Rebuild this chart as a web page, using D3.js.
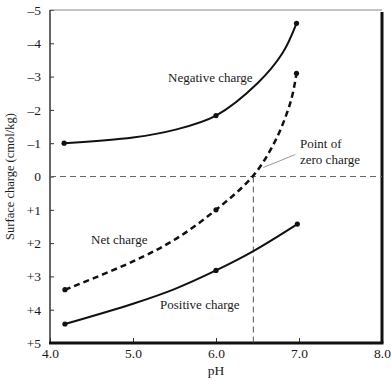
<!DOCTYPE html>
<html>
<head>
<meta charset="utf-8">
<script src="https://cdn.jsdelivr.net/npm/d3@7"></script>
<style>
  body { margin: 0; background: #fff; }
  svg text { font-family: "Liberation Serif", serif; fill: #1a1a1a; }
</style>
</head>
<body>
<script>
// values (pH vs surface charge, cmol/kg; negative is up)
const negPH = [4.17, 5.0, 5.5, 6.0, 6.5, 6.8, 6.97];
const negCharge = [-1.0, -1.17, -1.4, -1.83, -2.8, -3.7, -4.6];
const negMarks = [0, 3, 6];

const netPH = [4.18, 5.0, 5.5, 6.0, 6.44, 6.7, 6.9, 6.97];
const netCharge = [3.4, 2.55, 1.9, 1.0, 0, -1.0, -2.25, -3.1];
const netMarks = [0, 3, 7];

const posPH = [4.18, 5.0, 5.5, 6.0, 6.45, 6.98];
const posCharge = [4.43, 3.82, 3.38, 2.82, 2.24, 1.43];
const posMarks = [0, 3, 5];

const zeroChargePH = 6.45;

const xTicks = [4, 5, 6, 7, 8];
const yTicks = [-5, -4, -3, -2, -1, 0, 1, 2, 3, 4, 5];

const width = 391, height = 381;

const svg = d3.select("body").append("svg")
    .attr("width", width)
    .attr("height", height);

const x = d3.scaleLinear().domain([4, 8]).range([50, 382]);
const y = d3.scaleLinear().domain([-5, 5]).range([10, 343]);

// axes
svg.append("g")
    .attr("transform", "translate(0," + y(5) + ")")
    .call(d3.axisBottom(x).tickValues(xTicks).tickSize(-5).tickPadding(5).tickFormat(d3.format(".1f")))
    .call(g => g.select(".domain").remove())
    .call(g => g.selectAll("line").attr("stroke", "#333"))
    .selectAll("text")
    .style("font-size", "13.5px")
    .attr("fill", "#1a1a1a");

svg.append("g")
    .attr("transform", "translate(" + x(4) + ",0)")
    .call(d3.axisLeft(y).tickValues(yTicks).tickSize(-4).tickPadding(9)
        .tickFormat(d => d < 0 ? "\u2013" + Math.abs(d) : d > 0 ? "+" + d : "0"))
    .call(g => g.select(".domain").remove())
    .call(g => g.selectAll("line").attr("stroke", "#333"))
    .selectAll("text")
    .style("font-size", "13.5px")
    .attr("fill", "#1a1a1a");

// frame
svg.append("line").attr("x1", x(4)).attr("x2", x(8)).attr("y1", y(-5)).attr("y2", y(-5))
    .attr("stroke", "#888").attr("stroke-width", 1);
svg.append("line").attr("x1", x(4)).attr("x2", x(4)).attr("y1", y(-5)).attr("y2", y(5))
    .attr("stroke", "#333").attr("stroke-width", 1.5);
svg.append("line").attr("x1", x(4) - 1).attr("x2", x(8) + 1.5).attr("y1", y(5)).attr("y2", y(5))
    .attr("stroke", "#111").attr("stroke-width", 3);
svg.append("line").attr("x1", x(8)).attr("x2", x(8)).attr("y1", y(-5) + 2).attr("y2", y(5))
    .attr("stroke", "#111").attr("stroke-width", 3);

// zero line and point of zero charge guide
svg.append("line").attr("x1", x(4)).attr("x2", x(8)).attr("y1", y(0)).attr("y2", y(0))
    .attr("stroke", "#666").attr("stroke-width", 1).attr("stroke-dasharray", "6,4");
svg.append("line").attr("x1", x(zeroChargePH)).attr("x2", x(zeroChargePH)).attr("y1", y(0)).attr("y2", y(5))
    .attr("stroke", "#555").attr("stroke-width", 1).attr("stroke-dasharray", "6,4");

const line = d3.line()
    .x(d => x(d[0]))
    .y(d => y(d[1]))
    .curve(d3.curveCatmullRom.alpha(0.5));

const series = [
  {ph: negPH, v: negCharge, marks: negMarks, dash: null, w: 2},
  {ph: netPH, v: netCharge, marks: netMarks, dash: "6,4", w: 2.5},
  {ph: posPH, v: posCharge, marks: posMarks, dash: null, w: 2}
];

series.forEach(s => {
  const pts = s.ph.map((p, i) => [p, s.v[i]]);
  svg.append("path")
      .datum(pts)
      .attr("d", line)
      .attr("fill", "none")
      .attr("stroke", "#111")
      .attr("stroke-width", s.w)
      .attr("stroke-dasharray", s.dash);
  svg.selectAll(null)
      .data(s.marks.map(i => pts[i]))
      .enter()
      .append("circle")
      .attr("cx", d => x(d[0]))
      .attr("cy", d => y(d[1]))
      .attr("r", 2.6)
      .attr("fill", "#111");
});

// leader line to the point of zero charge
svg.append("line")
    .attr("x1", x(zeroChargePH) + 10).attr("y1", y(0) - 9)
    .attr("x2", x(zeroChargePH) + 42).attr("y2", y(0) - 22)
    .attr("stroke", "#999").attr("stroke-width", 1);

// labels
const labels = [
  {t: "Negative charge", x: 168, y: 82},
  {t: "Net charge", x: 91, y: 244},
  {t: "Positive charge", x: 160, y: 309},
  {t: "Point of", x: 300, y: 148},
  {t: "zero charge", x: 300, y: 164}
];
svg.selectAll(".lbl")
    .data(labels)
    .enter()
    .append("text")
    .attr("class", "lbl")
    .attr("x", d => d.x)
    .attr("y", d => d.y)
    .style("font-size", "13px")
    .text(d => d.t);

svg.append("text")
    .attr("x", x(6))
    .attr("y", 375)
    .attr("text-anchor", "middle")
    .style("font-size", "13.5px")
    .text("pH");

svg.append("text")
    .attr("transform", "translate(14," + y(0) + ") rotate(-90)")
    .attr("text-anchor", "middle")
    .style("font-size", "12.5px")
    .text("Surface charge (cmol/kg)");
</script>
</body>
</html>
